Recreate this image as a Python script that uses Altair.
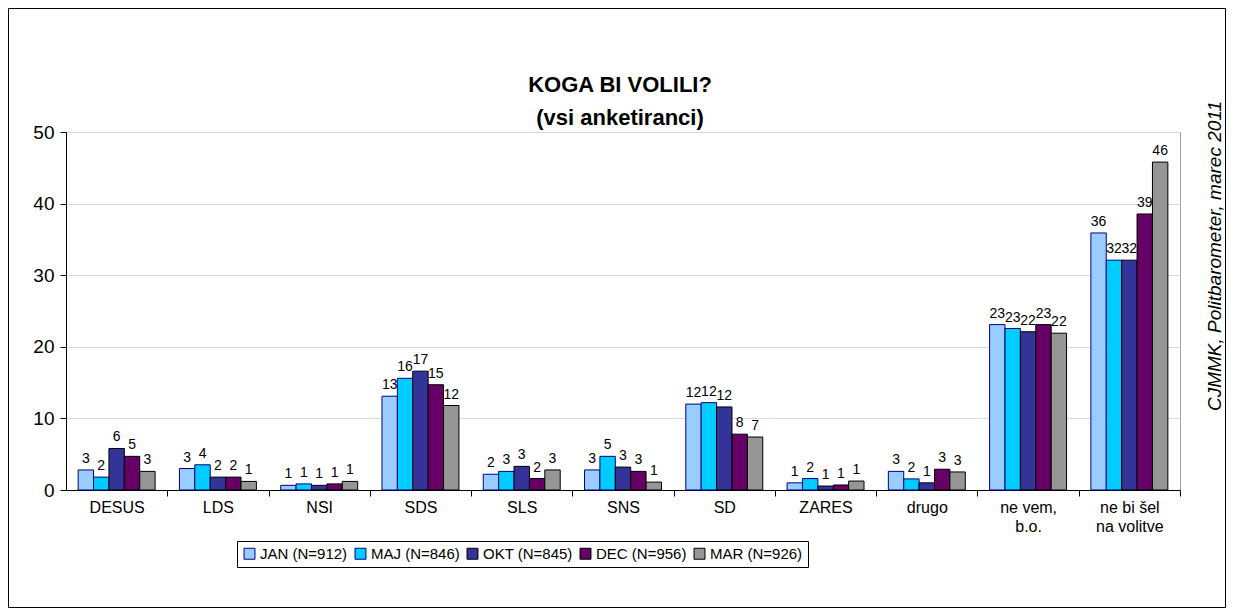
import altair as alt
import pandas as pd

categories = ["DESUS", "LDS", "NSI", "SDS", "SLS", "SNS", "SD", "ZARES", "drugo",
              "ne vem, b.o.", "ne bi šel na volitve"]
series = ["JAN (N=912)", "MAJ (N=846)", "OKT (N=845)", "DEC (N=956)", "MAR (N=926)"]

jan = [2.8, 3.0, 0.65, 13.1, 2.2, 2.8, 12.0, 1.0, 2.6, 23.1, 35.9]
maj = [1.8, 3.52, 0.85, 15.6, 2.6, 4.7, 12.2, 1.6, 1.55, 22.55, 32.1]
okt = [5.8, 1.8, 0.65, 16.6, 3.3, 3.2, 11.6, 0.55, 1.0, 22.1, 32.1]
dec = [4.7, 1.8, 0.85, 14.7, 1.6, 2.6, 7.8, 0.7, 2.9, 23.1, 38.55]
mar = [2.6, 1.2, 1.2, 11.8, 2.8, 1.1, 7.4, 1.25, 2.52, 21.9, 45.8]

fills = ["#99CCFF", "#00CCFF", "#333399", "#660066", "#969696"]
strokes = ["#000080", "#000080", "#000000", "#000000", "#000000"]

title_lines = ["KOGA BI VOLILI?", "(vsi anketiranci)"]
source_note = "CJMMK, Politbarometer, marec 2011"
y_ticks = [0, 10, 20, 30, 40, 50]

rows = []
for s, vals in zip(series, [jan, maj, okt, dec, mar]):
    for c, v in zip(categories, vals):
        rows.append({"cat": c, "series": s, "value": v})
df = pd.DataFrame(rows)

W, H = 1114, 358
step = W / len(categories)
FONT = "Liberation Sans"

label_expr = ("datum.label == 'ne vem, b.o.' ? ['ne vem,', 'b.o.'] : "
              "datum.label == 'ne bi šel na volitve' ? ['ne bi šel', 'na volitve'] : datum.label")

x_enc = alt.X("cat:N", sort=categories, title=None,
              scale=alt.Scale(paddingInner=0.24, paddingOuter=0.12),
              axis=alt.Axis(labelExpr=label_expr, tickOffset=step / 2, labelOffset=-step / 2,
                            labelAngle=0, labelFontSize=16, labelFont=FONT, labelColor="black",
                            domainColor="black", tickColor="black", tickSize=6,
                            labelPadding=3, grid=False, labelLineHeight=19))
xoff = alt.XOffset("series:N", sort=series, scale=alt.Scale(paddingInner=0, paddingOuter=0))
y_enc = alt.Y("value:Q", title=None,
              scale=alt.Scale(domain=[0, 50], nice=False),
              axis=alt.Axis(values=y_ticks, labelFontSize=19, labelFont=FONT, labelColor="black",
                            domainColor="black", tickColor="black", tickSize=6,
                            labelPadding=6, gridColor="#D9D9D9"))

base = alt.Chart(df)

bars = base.mark_bar(strokeWidth=1).encode(
    x=x_enc,
    xOffset=xoff,
    y=y_enc,
    fill=alt.Fill("series:N", sort=series,
                  scale=alt.Scale(domain=series, range=fills),
                  legend=alt.Legend(title=None, orient="none", legendX=171, legendY=409,
                                    direction="horizontal", columns=5,
                                    symbolType="square", symbolSize=120,
                                    symbolStrokeColor="black", symbolStrokeWidth=1,
                                    labelFontSize=15, labelFont=FONT, labelColor="black",
                                    strokeColor="black", padding=5, columnPadding=5,
                                    labelOffset=3, fillColor="white")),
    stroke=alt.Stroke("series:N", sort=series,
                      scale=alt.Scale(domain=series, range=strokes), legend=None),
)

labels = base.mark_text(baseline="bottom", dy=-4, fontSize=14, font=FONT, color="black").encode(
    x=x_enc,
    xOffset=xoff,
    y=y_enc,
    text=alt.Text("value:Q", format=".0f"),
)

one = pd.DataFrame({"note": [source_note]})
note = alt.Chart(one).mark_text(angle=270, fontStyle="italic", fontSize=19, font=FONT,
                                color="black").encode(
    x=alt.value(W + 35), y=alt.value(124), text="note:N")

tdf = pd.DataFrame({"t": title_lines})
title1 = alt.Chart(tdf.iloc[[0]]).mark_text(fontSize=22, fontWeight="bold", font=FONT,
                                           color="black", baseline="middle").encode(
    x=alt.value(W / 2 - 3), y=alt.value(-47), text="t:N")
title2 = alt.Chart(tdf.iloc[[1]]).mark_text(fontSize=22, fontWeight="bold", font=FONT,
                                           color="black", baseline="middle").encode(
    x=alt.value(W / 2 - 3), y=alt.value(-14), text="t:N")

frame = alt.Chart(one).mark_rect(fill="transparent", stroke="black", strokeWidth=1).encode(
    x=alt.value(-57.5), x2=alt.value(W + 45.5), y=alt.value(-123.5), y2=alt.value(H + 117.5))

chart = alt.layer(bars, labels, note, title1, title2, frame).properties(
    width=W, height=H,
    autosize=alt.AutoSizeParams(type="none"),
    padding={"left": 58, "top": 124, "right": 46, "bottom": 118},
).configure_view(stroke="#A0A0A0", strokeWidth=1)

chart.save("out.html", embed_options={"renderer": "svg", "actions": False})
